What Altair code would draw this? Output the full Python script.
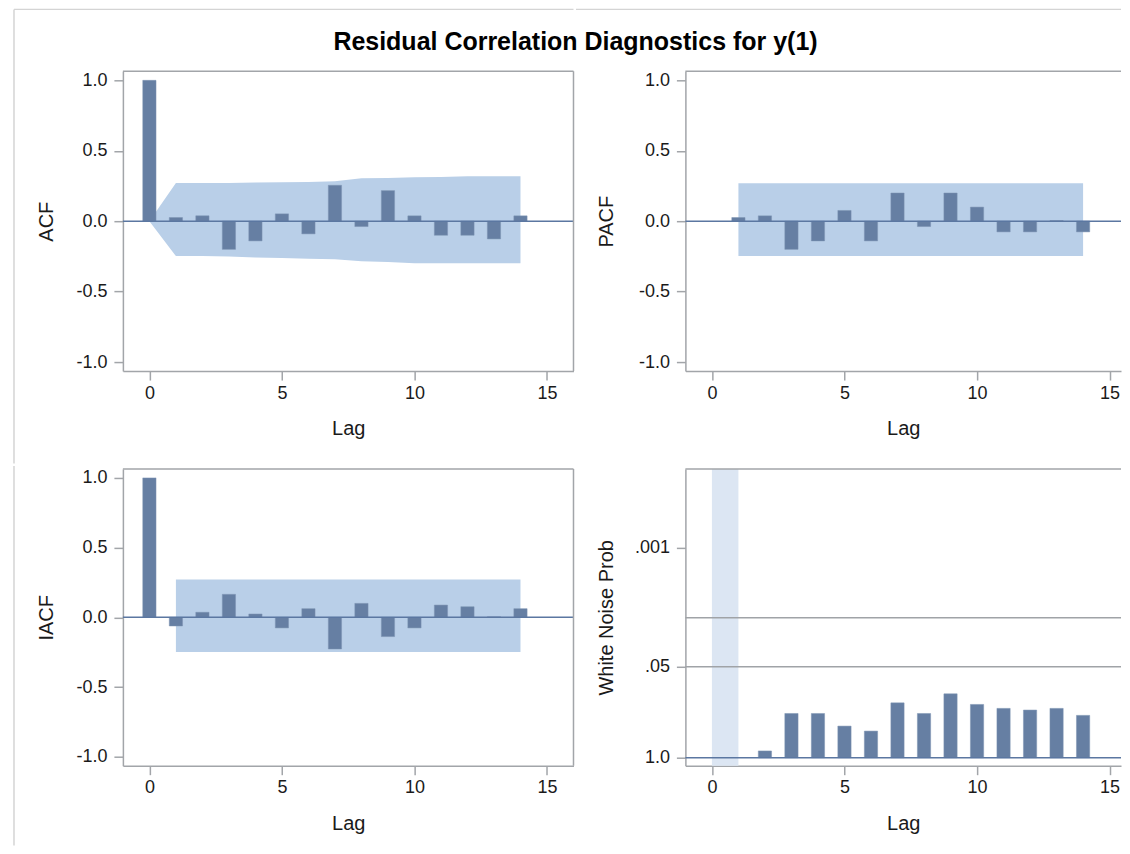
import math
import altair as alt
import pandas as pd

# ---------------- data ----------------
TITLE = "Residual Correlation Diagnostics for y(1)"

acf_lag = list(range(0, 15))
acf_val = [1.0, 0.026, 0.038, -0.200, -0.140, 0.052, -0.090, 0.255, -0.038,
           0.217, 0.038, -0.100, -0.100, -0.126, 0.038]
acf_band_lag = list(range(0, 15))
acf_band_hi = [0.0, 0.271, 0.271, 0.271, 0.274, 0.276, 0.278, 0.283, 0.305,
               0.307, 0.312, 0.314, 0.319, 0.319, 0.319]
acf_band_lo = [0.0, -0.248, -0.248, -0.250, -0.258, -0.262, -0.266, -0.270,
               -0.285, -0.290, -0.298, -0.298, -0.298, -0.298, -0.298]

pacf_lag = list(range(1, 15))
pacf_val = [0.026, 0.038, -0.200, -0.140, 0.076, -0.140, 0.200, -0.038, 0.200,
            0.100, -0.076, -0.076, 0.004, -0.076]
pacf_band_lag = [1, 14]
pacf_band_hi = [0.270, 0.270]
pacf_band_lo = [-0.248, -0.248]

iacf_lag = list(range(0, 15))
iacf_val = [1.0, -0.062, 0.036, 0.165, 0.024, -0.076, 0.062, -0.227, 0.100,
            -0.138, -0.076, 0.088, 0.076, 0.004, 0.062]
iacf_band_lag = [1, 14]
iacf_band_hi = [0.272, 0.272]
iacf_band_lo = [-0.248, -0.248]

wn_lag = list(range(2, 15))
wn_prob = [0.80, 0.233, 0.233, 0.353, 0.416, 0.164, 0.233, 0.122, 0.173,
           0.197, 0.208, 0.197, 0.248]
wn_ref_prob = [0.05, 0.01]
wn_untested_lag = [0, 1]

x_ticks = [0, 5, 10, 15]
corr_ticks = [-1.0, -0.5, 0.0, 0.5, 1.0]
wn_tick_prob = [1.0, 0.05, 0.001]
wn_tick_text = ["1.0", ".05", ".001"]

# ---------------- styling ----------------
FONT = "Liberation Sans"
BAR = "#667fa3"
BAND = "#b9cfe8"
LIGHT = "#dce6f3"
ZERO = "#5b77a1"
FRAME = "#a2a5a9"
BORDER = "#d4d4d4"
REF = "#a0a3a7"
TXT = "#1a1a1a"

WL, WR = 451, 436          # plot widths (left / right column)
HT, HB = 300, 297          # plot heights (top / bottom row)
XMAX_L, XMAX_R = 16, 15.43
CORR_DOM = [-1.064, 1.064]
WN_DOM = [-0.114, 4.129]
CORR_LABELS = "(datum.value < 0 ? '-' : '') + format(abs(datum.value), '.1f')"


def nlp(p):
    return -math.log10(p)


def one():
    return alt.Data(values=[{"k": 0}])


def xscale(xmax):
    return alt.Scale(domain=[-1, xmax], nice=False, zero=False)


def yscale(ydom):
    return alt.Scale(domain=ydom, nice=False, zero=False)


def xaxis():
    return alt.Axis(values=x_ticks, title="Lag", format="d", titleY=58,
                    titleBaseline="middle", labelPadding=4)


def yaxis(title, h, title_x, values, label_expr):
    return alt.Axis(values=values, title=title, titleX=title_x, titleY=h / 2,
                    titleAngle=270, titleBaseline="middle", titleAlign="center",
                    labelPadding=7, labelExpr=label_expr)


class Panel:
    def __init__(self, xmax, ydom, yax):
        self.xmax = xmax
        self.ydom = ydom
        self.yax = yax

    def X(self, field, **kw):
        return alt.X(field, type="quantitative", scale=xscale(self.xmax), axis=xaxis(), **kw)

    def Y(self, field, **kw):
        return alt.Y(field, type="quantitative", scale=yscale(self.ydom), axis=self.yax, **kw)

    def bars(self, df, yfield):
        return alt.Chart(df).transform_calculate(
            x0="datum.lag - 0.25", x1="datum.lag + 0.25"
        ).mark_bar(color=BAR, stroke="#7d93b3", strokeWidth=0.5).encode(
            x=self.X("x0"), x2="x1:Q", y=self.Y(yfield), y2=alt.datum(0))

    def band(self, lags, hi, lo):
        df = pd.DataFrame({"lag": lags, "hi": hi, "lo": lo})
        return alt.Chart(df).mark_area(color=BAND, opacity=1).encode(
            x=self.X("lag"), y=self.Y("hi"), y2="lo:Q")

    def hline(self, value, color):
        return alt.Chart(one()).mark_rule(color=color, strokeWidth=1.5).encode(
            y=alt.Y(datum=value, type="quantitative", scale=yscale(self.ydom), axis=self.yax))

    def vline(self, value, color):
        return alt.Chart(one()).mark_rule(color=color, strokeWidth=1.5).encode(
            x=alt.X(datum=value, type="quantitative", scale=xscale(self.xmax), axis=xaxis()))

    def rect_x(self, df):
        return alt.Chart(df).mark_rect(color=LIGHT).encode(x=self.X("start"), x2="end:Q")


def deco_v(x, y1, y2, color=BORDER):
    return alt.Chart(one()).mark_rule(color=color, strokeWidth=1.5).encode(
        x=alt.value(x), y=alt.value(y1), y2=alt.value(y2))


def deco_h(x1, x2, y, color=BORDER):
    return alt.Chart(one()).mark_rule(color=color, strokeWidth=1.5).encode(
        x=alt.value(x1), x2=alt.value(x2), y=alt.value(y))


# ---------------- ACF ----------------
P = Panel(XMAX_L, CORR_DOM, yaxis("ACF", HT, -76, corr_ticks, CORR_LABELS))
acf_df = pd.DataFrame({"lag": acf_lag, "v": acf_val})
acf_chart = alt.layer(
    P.band(acf_band_lag, acf_band_hi, acf_band_lo),
    P.bars(acf_df, "v"),
    P.hline(0, ZERO),
    P.hline(CORR_DOM[1], FRAME),
    P.vline(XMAX_L, FRAME),
    deco_v(-109, -62, 392.5),
    deco_h(-109, WL, -62),
).properties(width=WL, height=HT)

# ---------------- PACF ----------------
P = Panel(XMAX_R, CORR_DOM, yaxis("PACF", HT, -79, corr_ticks, CORR_LABELS))
pacf_df = pd.DataFrame({"lag": pacf_lag, "v": pacf_val})
pacf_chart = alt.layer(
    P.band(pacf_band_lag, pacf_band_hi, pacf_band_lo),
    P.bars(pacf_df, "v"),
    P.hline(0, ZERO),
    P.hline(CORR_DOM[1], FRAME),
    deco_h(-109.5, WR, -62),
).properties(width=WR, height=HT)

# ---------------- IACF ----------------
P = Panel(XMAX_L, CORR_DOM, yaxis("IACF", HB, -76, corr_ticks, CORR_LABELS))
iacf_df = pd.DataFrame({"lag": iacf_lag, "v": iacf_val})
iacf_chart = alt.layer(
    P.band(iacf_band_lag, iacf_band_hi, iacf_band_lo),
    P.bars(iacf_df, "v"),
    P.hline(0, ZERO),
    P.hline(CORR_DOM[1], FRAME),
    P.vline(XMAX_L, FRAME),
    deco_v(-109, -3, 377),
).properties(width=WL, height=HB)

# ---------------- White noise ----------------
wn_ticks = [nlp(p) for p in wn_tick_prob]
wn_label_expr = (
    f"datum.value < 0.5 ? '{wn_tick_text[0]}' : "
    f"(datum.value < 2 ? '{wn_tick_text[1]}' : '{wn_tick_text[2]}')"
)
P = Panel(XMAX_R, WN_DOM, yaxis("White Noise Prob", HB, -79, wn_ticks, wn_label_expr))
wn_df = pd.DataFrame({"lag": wn_lag, "nlp": [nlp(p) for p in wn_prob]})
wn_untested = pd.DataFrame({"start": [wn_untested_lag[0]], "end": [wn_untested_lag[1]]})
wn_layers = [P.rect_x(wn_untested)]
for p in wn_ref_prob:
    wn_layers.append(P.hline(nlp(p), REF))
wn_layers += [
    P.bars(wn_df, "nlp"),
    P.hline(0, ZERO),
    P.hline(WN_DOM[1], FRAME),
    deco_v(-109.5, -3, -2, color="white"),
]
wn_chart = alt.layer(*wn_layers).properties(width=WR, height=HB)

# ---------------- assemble ----------------
top = alt.hconcat(acf_chart, pacf_chart, spacing=0)
bottom = alt.hconcat(iacf_chart, wn_chart, spacing=0)

chart = alt.vconcat(top, bottom, spacing=0).properties(
    title=alt.TitleParams(TITLE, font=FONT, fontSize=25, fontWeight="bold",
                          color="#000000", anchor="middle", baseline="bottom",
                          offset=-71, dx=8),
    padding={"left": 5, "top": 0, "right": 0, "bottom": 0},
).configure_view(
    strokeWidth=0
).configure_axis(
    grid=False,
    domain=True,
    domainColor=FRAME,
    domainWidth=1.5,
    tickColor=FRAME,
    tickWidth=1.5,
    tickSize=9,
    labelFont=FONT,
    labelFontSize=18,
    labelColor=TXT,
    titleFont=FONT,
    titleFontSize=20,
    titleFontWeight="normal",
    titleColor=TXT,
)

chart.save("out.html", embed_options={"renderer": "svg", "actions": False})
